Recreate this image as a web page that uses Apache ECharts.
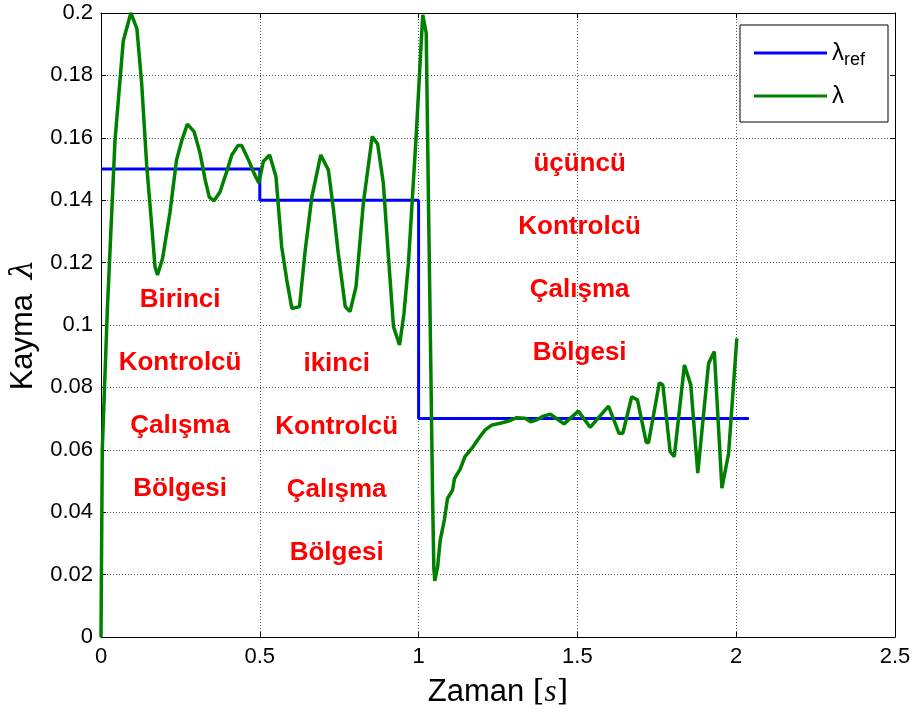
<!DOCTYPE html>
<html>
<head>
<meta charset="utf-8">
<script src="https://cdn.jsdelivr.net/npm/echarts@6/dist/echarts.min.js"></script>
<style>
  html, body { margin: 0; padding: 0; background: #fff; }
  #chart { width: 917px; height: 722px; }
</style>
</head>
<body>
<div id="chart"></div>
<script>
// Slip reference (step profile) and measured slip over time
const refTime = [0, 0.5, 0.5, 1.0, 1.0, 2.04];
const refSlip = [0.15, 0.15, 0.14, 0.14, 0.07, 0.07];

const slipTime = [0, 0.004, 0.02, 0.044, 0.070, 0.094, 0.113, 0.128, 0.144, 0.160, 0.170, 0.178, 0.194, 0.217, 0.238, 0.254, 0.272, 0.293, 0.312, 0.328, 0.341, 0.356, 0.375, 0.394, 0.412, 0.431, 0.443, 0.464, 0.482, 0.497, 0.511, 0.531, 0.551, 0.569, 0.585, 0.601, 0.625, 0.643, 0.664, 0.692, 0.716, 0.732, 0.747, 0.769, 0.784, 0.803, 0.826, 0.854, 0.871, 0.889, 0.905, 0.921, 0.940, 0.954, 0.968, 0.980, 0.992, 1.003, 1.013, 1.024, 1.031, 1.038, 1.044, 1.048, 1.051, 1.060, 1.068, 1.081, 1.091, 1.107, 1.113, 1.131, 1.146, 1.168, 1.189, 1.209, 1.230, 1.257, 1.283, 1.309, 1.335, 1.353, 1.372, 1.393, 1.415, 1.458, 1.503, 1.540, 1.598, 1.631, 1.643, 1.671, 1.689, 1.717, 1.724, 1.758, 1.769, 1.792, 1.805, 1.837, 1.857, 1.879, 1.884, 1.913, 1.931, 1.955, 1.976, 2.002];
const slipValue = [0, 0.06, 0.105, 0.159, 0.191, 0.200, 0.195, 0.1775, 0.151, 0.1315, 0.1187, 0.116, 0.1214, 0.136, 0.153, 0.159, 0.1644, 0.162, 0.155, 0.1465, 0.141, 0.1398, 0.1427, 0.1486, 0.1545, 0.1575, 0.1575, 0.153, 0.1486, 0.1455, 0.1524, 0.1545, 0.1475, 0.125, 0.1144, 0.1053, 0.1059, 0.124, 0.1411, 0.1545, 0.1497, 0.1369, 0.123, 0.1059, 0.1043, 0.1123, 0.139, 0.1604, 0.158, 0.1454, 0.1219, 0.0994, 0.0936, 0.1037, 0.1198, 0.140, 0.160, 0.1807, 0.1994, 0.1936, 0.140, 0.09, 0.045, 0.022, 0.018, 0.0226, 0.031, 0.0375, 0.0444, 0.0471, 0.0508, 0.0538, 0.0578, 0.0605, 0.0636, 0.0663, 0.0679, 0.0685, 0.0692, 0.0703, 0.0701, 0.069, 0.0696, 0.0708, 0.0714, 0.0683, 0.0724, 0.0672, 0.074, 0.0653, 0.0653, 0.077, 0.076, 0.0623, 0.0623, 0.0815, 0.0808, 0.0594, 0.0578, 0.0872, 0.0808, 0.0525, 0.0525, 0.0877, 0.0915, 0.0477, 0.0588, 0.0957];

// Controller region captions (text lines per region)
const regionLines = [
  ['Birinci', 'Kontrolcü', 'Çalışma', 'Bölgesi'],
  ['ikinci', 'Kontrolcü', 'Çalışma', 'Bölgesi'],
  ['üçüncü', 'Kontrolcü', 'Çalışma', 'Bölgesi']
];
// Anchor of each region caption (time, slip of first line) and line step in slip units
const regionAnchorTime = [0.249, 0.742, 1.507];
const regionAnchorSlip = [0.108, 0.0875, 0.1517];
const captionStep = 0.0202;

const xTicks = { min: 0, max: 2.5, interval: 0.5 };
const yTicks = { min: 0, max: 0.2, interval: 0.02 };

const zip = (a, b) => a.map((v, i) => [v, b[i]]);

const captionData = [];
regionLines.forEach((lines, r) => {
  lines.forEach((txt, k) => {
    captionData.push({ value: [regionAnchorTime[r], regionAnchorSlip[r] - k * captionStep], name: txt });
  });
});

const sans = 'Arial, "Liberation Sans", Helvetica, sans-serif';
const serif = '"DejaVu Serif", "Liberation Serif", serif';
const fmtNum = v => String(parseFloat(v.toFixed(2)));

const chart = echarts.init(document.getElementById('chart'), null, { renderer: 'canvas' });

const axisCommon = {
  type: 'value',
  axisLine: { show: true, onZero: false, lineStyle: { color: '#000', width: 1 } },
  axisTick: { show: true, inside: true, length: 5, lineStyle: { color: '#000' } },
};
const gridLine = { show: true, lineStyle: { color: '#555', type: [1, 2], width: 1 } };

chart.setOption({
  animation: false,
  backgroundColor: '#fff',
  grid: { left: 101, right: 22, top: 13, bottom: 85, containLabel: false },
  legend: {
    orient: 'vertical',
    left: 740,
    top: 25,
    padding: [12, 23, 12, 14],
    itemGap: 13,
    itemWidth: 73,
    itemHeight: 3,
    icon: 'rect',
    backgroundColor: '#fff',
    borderColor: '#000',
    borderWidth: 1,
    borderRadius: 0,
    data: ['ref', 'lam'],
    formatter: name => name === 'ref' ? '{l|λ}{s|ref}' : '{l|λ}',
    textStyle: {
      color: '#000',
      fontFamily: sans,
      lineHeight: 28,
      rich: {
        l: { fontSize: 24, fontFamily: sans, color: '#000', lineHeight: 28 },
        s: { fontSize: 18, fontFamily: sans, color: '#000', lineHeight: 28, padding: [14, 0, 0, 0] }
      }
    }
  },
  xAxis: [
    Object.assign({}, axisCommon, {
      position: 'bottom',
      min: xTicks.min, max: xTicks.max, interval: xTicks.interval,
      axisLabel: { color: '#000', fontSize: 22, fontFamily: sans, margin: 9, formatter: fmtNum },
      splitLine: gridLine,
      name: '{n|Zaman }{b|[}{i|s}{b|]}',
      nameLocation: 'middle',
      nameGap: 40,
      nameTextStyle: {
        rich: {
          n: { fontSize: 31, fontFamily: sans, color: '#000' },
          b: { fontSize: 30, fontFamily: serif, color: '#000' },
          i: { fontSize: 31, fontFamily: '"Liberation Serif", "DejaVu Serif", serif', fontStyle: 'italic', color: '#000' }
        }
      }
    }),
    Object.assign({}, axisCommon, {
      position: 'top',
      min: xTicks.min, max: xTicks.max, interval: xTicks.interval,
      axisLabel: { show: false },
      splitLine: { show: false }
    })
  ],
  yAxis: [
    Object.assign({}, axisCommon, {
      position: 'left',
      min: yTicks.min, max: yTicks.max, interval: yTicks.interval,
      axisLabel: { color: '#000', fontSize: 22, fontFamily: sans, margin: 8, formatter: fmtNum },
      splitLine: gridLine,
      name: '{n|Kayma }{i|λ}',
      nameLocation: 'middle',
      nameGap: 58,
      nameRotate: 90,
      nameTextStyle: {
        rich: {
          n: { fontSize: 31, fontFamily: sans, color: '#000' },
          i: { fontSize: 31, fontFamily: serif, fontStyle: 'italic', color: '#000', padding: [0, 0, 0, 6] }
        }
      }
    }),
    Object.assign({}, axisCommon, {
      position: 'right',
      min: yTicks.min, max: yTicks.max, interval: yTicks.interval,
      axisLabel: { show: false },
      splitLine: { show: false }
    })
  ],
  series: [
    {
      name: 'ref',
      type: 'line',
      xAxisIndex: 0, yAxisIndex: 0,
      data: zip(refTime, refSlip),
      showSymbol: false,
      lineStyle: { color: '#0000FF', width: 3 },
      itemStyle: { color: '#0000FF' },
      z: 3
    },
    {
      name: 'lam',
      type: 'line',
      xAxisIndex: 0, yAxisIndex: 0,
      data: zip(slipTime, slipValue),
      showSymbol: false,
      clip: true,
      lineStyle: { color: '#008000', width: 3.5 },
      itemStyle: { color: '#008000' },
      z: 4
    },
    {
      name: 'captions',
      type: 'scatter',
      xAxisIndex: 0, yAxisIndex: 0,
      data: captionData,
      symbolSize: 0,
      silent: true,
      itemStyle: { opacity: 1 },
      label: {
        show: true,
        position: 'inside',
        formatter: p => p.name,
        color: '#FF0000',
        opacity: 1,
        fontSize: 26,
        fontWeight: 'bold',
        fontFamily: sans
      },
      z: 5
    }
  ]
});
</script>
</body>
</html>
